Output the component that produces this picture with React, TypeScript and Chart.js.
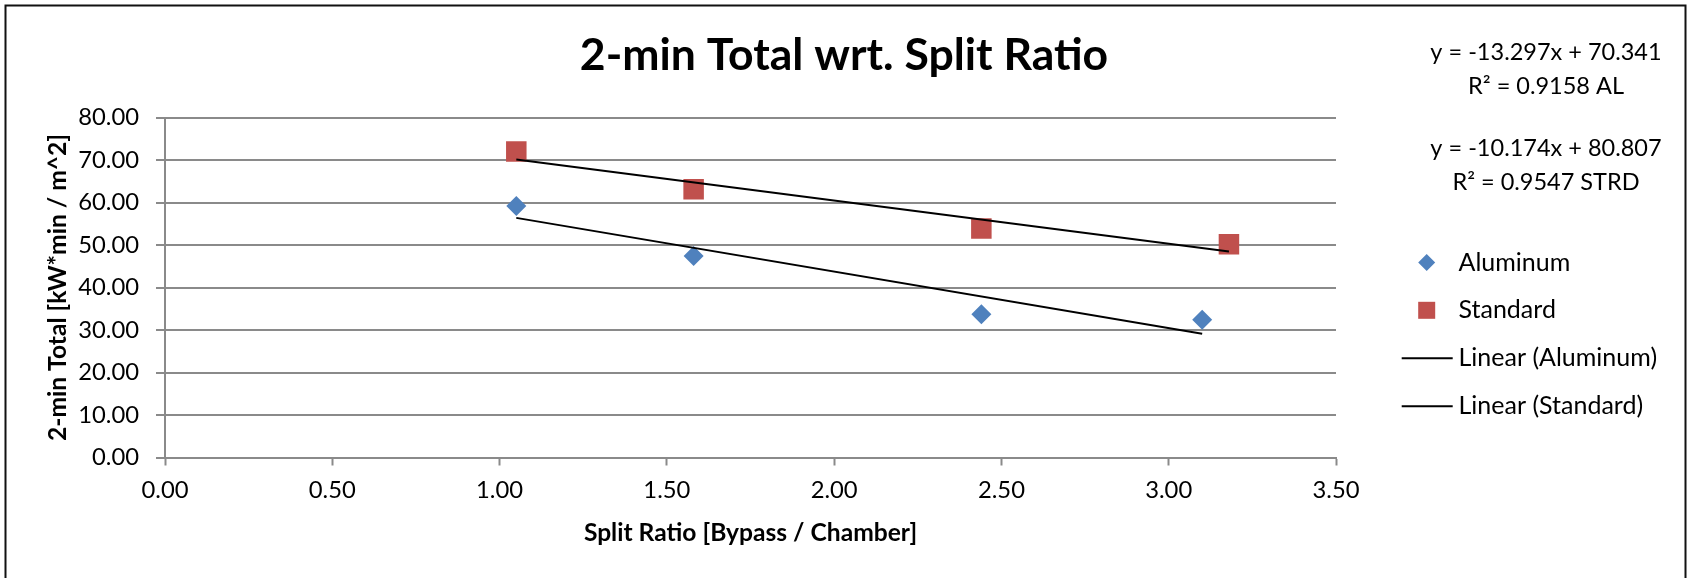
import React, { useEffect, useRef } from 'react';
import { Chart, registerables } from 'chart.js';

Chart.register(...registerables);

const W = 1688;
const H = 578;

// ---- data ----
const chartTitle = '2-min Total wrt. Split Ratio';
const xAxisTitle = 'Split Ratio [Bypass / Chamber]';
const yAxisTitle = '2-min Total [kW*min / m^2]';

const seriesNames = ['Aluminum', 'Standard'];
const trendNames = ['Linear (Aluminum)', 'Linear (Standard)'];

const aluminumX = [1.05, 1.58, 2.44, 3.1];
const aluminumY = [59.2, 47.4, 33.7, 32.4];
const standardX = [1.05, 1.58, 2.44, 3.18];
const standardY = [72.0, 63.1, 53.9, 50.2];

const fitSlopes = [-13.297, -10.174];
const fitIntercepts = [70.341, 80.807];
const fitR2 = [0.9158, 0.9547];
const fitTags = ['AL', 'STRD'];

const xTicks = [0, 0.5, 1, 1.5, 2, 2.5, 3, 3.5];
const yTicks = [0, 10, 20, 30, 40, 50, 60, 70, 80];

// ---- styles ----
const BLUE = '#4F81BD';
const RED = '#C0504D';
const GRID = '#8a8a8a';
const FONT = 'Lato';
const TICK_SIZE = 23.8;
const EQ_SIZE = 23.5;
const LEGEND_SIZE = 25;
const AXIS_TITLE_SIZE = 24.6;

function trendPoints(xs: number[], i: number) {
  const lo = Math.min(...xs);
  const hi = Math.max(...xs);
  return [
    { x: lo, y: fitSlopes[i] * lo + fitIntercepts[i] },
    { x: hi, y: fitSlopes[i] * hi + fitIntercepts[i] },
  ];
}

const decorPlugin = {
  id: 'decor',
  beforeDraw(chart: any) {
    const ctx = chart.ctx;
    ctx.save();
    ctx.fillStyle = '#ffffff';
    ctx.fillRect(0, 0, chart.width, chart.height);
    ctx.restore();
  },
  afterDraw(chart: any) {
    const ctx = chart.ctx;
    ctx.save();
    // outer frame
    ctx.strokeStyle = '#111111';
    ctx.lineWidth = 2;
    ctx.strokeRect(5.5, 5.5, 1680, 620);

    // trendline equations
    ctx.fillStyle = '#000000';
    ctx.font = `${EQ_SIZE}px ${FONT}`;
    ctx.textAlign = 'center';
    ctx.textBaseline = 'middle';
    const eqY = [[52.5, 86], [148.6, 182]];
    for (let i = 0; i < 2; i++) {
      ctx.fillText(`y = ${fitSlopes[i].toFixed(3)}x + ${fitIntercepts[i].toFixed(3)}`, 1546, eqY[i][0]);
      ctx.fillText(`R\u00B2 = ${fitR2[i].toFixed(4)} ${fitTags[i]}`, 1546, eqY[i][1]);
    }

    // legend
    const mx = 1426.7;
    const tx = 1458.5;
    const ly = [262.6, 310.3, 358.3, 406.2];
    ctx.fillStyle = BLUE;
    ctx.beginPath();
    ctx.moveTo(mx - 8.5, ly[0]);
    ctx.lineTo(mx, ly[0] - 8.5);
    ctx.lineTo(mx + 8.5, ly[0]);
    ctx.lineTo(mx, ly[0] + 8.5);
    ctx.closePath();
    ctx.fill();
    ctx.fillStyle = RED;
    ctx.fillRect(mx - 8.5, ly[1] - 8.5, 17, 17);
    ctx.strokeStyle = '#000000';
    ctx.lineWidth = 2;
    for (let k = 2; k < 4; k++) {
      ctx.beginPath();
      ctx.moveTo(1401.7, ly[k]);
      ctx.lineTo(1452.7, ly[k]);
      ctx.stroke();
    }
    ctx.fillStyle = '#000000';
    ctx.font = `${LEGEND_SIZE}px ${FONT}`;
    ctx.textAlign = 'left';
    const labels = [seriesNames[0], seriesNames[1], trendNames[0], trendNames[1]];
    labels.forEach((t, k) => ctx.fillText(t, tx, ly[k]));
    ctx.restore();
  },
};

export default function App() {
  const ref = useRef<HTMLCanvasElement>(null);
  useEffect(() => {
    document.body.style.margin = '0';
    const canvas = ref.current;
    if (!canvas) return;
    const chart = new Chart(canvas, {
      type: 'scatter',
      data: {
        datasets: [
          {
            label: trendNames[0],
            data: trendPoints(aluminumX, 0),
            showLine: true,
            borderColor: '#000000',
            borderWidth: 2,
            pointRadius: 0,
            order: 0,
          },
          {
            label: trendNames[1],
            data: trendPoints(standardX, 1),
            showLine: true,
            borderColor: '#000000',
            borderWidth: 2,
            pointRadius: 0,
            order: 0,
          },
          {
            label: seriesNames[0],
            data: aluminumX.map((x, i) => ({ x, y: aluminumY[i] })),
            pointStyle: 'rectRot',
            pointRadius: 10,
            backgroundColor: BLUE,
            borderColor: BLUE,
            borderWidth: 0,
            order: 1,
          },
          {
            label: seriesNames[1],
            data: standardX.map((x, i) => ({ x, y: standardY[i] })),
            pointStyle: 'rect',
            pointRadius: 14.5,
            backgroundColor: RED,
            borderColor: RED,
            borderWidth: 0,
            order: 1,
          },
        ],
      },
      options: {
        responsive: false,
        animation: false,
        devicePixelRatio: 1,
        layout: { padding: 0 },
        plugins: {
          legend: { display: false },
          tooltip: { enabled: false },
          title: {
            display: true,
            text: chartTitle,
            color: '#000000',
            font: { family: FONT, size: 44.5, weight: 'bold', lineHeight: 1.2 },
            padding: { top: 29, bottom: 35.1 },
          },
        },
        scales: {
          x: {
            type: 'linear',
            position: 'bottom',
            min: 0,
            max: 3.5,
            afterBuildTicks: (s: any) => {
              s.ticks = xTicks.map((v) => ({ value: v }));
            },
            afterFit: (s: any) => {
              s.height = 120.5;
            },
            ticks: {
              color: '#000000',
              font: { family: FONT, size: TICK_SIZE },
              padding: 11,
              maxRotation: 0,
              autoSkip: false,
              callback: (v: any) => Number(v).toFixed(2),
            },
            grid: {
              drawOnChartArea: false,
              drawTicks: true,
              tickLength: 8,
              tickColor: GRID,
              tickWidth: 2,
            },
            border: { display: true, color: GRID, width: 2 },
            title: {
              display: true,
              text: xAxisTitle,
              color: '#000000',
              font: { family: FONT, size: AXIS_TITLE_SIZE, weight: 'bold', lineHeight: 1.2 },
              padding: { top: 0, bottom: 30.2 },
            },
          },
          y: {
            type: 'linear',
            position: 'left',
            min: 0,
            max: 80,
            afterBuildTicks: (s: any) => {
              s.ticks = yTicks.map((v) => ({ value: v }));
            },
            afterFit: (s: any) => {
              s.width = 165;
            },
            ticks: {
              color: '#000000',
              font: { family: FONT, size: TICK_SIZE },
              padding: 17,
              autoSkip: false,
              callback: (v: any) => Number(v).toFixed(2),
            },
            grid: {
              color: GRID,
              lineWidth: 2,
              drawTicks: true,
              tickLength: 9,
              tickColor: GRID,
              tickWidth: 2,
            },
            border: { display: true, color: GRID, width: 2 },
            title: {
              display: true,
              text: yAxisTitle,
              color: '#000000',
              font: { family: FONT, size: AXIS_TITLE_SIZE, weight: 'bold', lineHeight: 1.2 },
              padding: { top: 43.2, bottom: 0 },
            },
          },
          yRight: {
            type: 'linear',
            position: 'right',
            display: true,
            grid: { display: false, drawTicks: false },
            ticks: { display: false },
            border: { display: false },
            afterFit: (s: any) => {
              s.width = 352;
            },
          },
        },
      },
      plugins: [decorPlugin],
    } as any);
    return () => chart.destroy();
  }, []);
  return (
    <canvas
      ref={ref}
      width={W}
      height={H}
      style={{ display: 'block', width: W + 'px', height: H + 'px' }}
    />
  );
}
